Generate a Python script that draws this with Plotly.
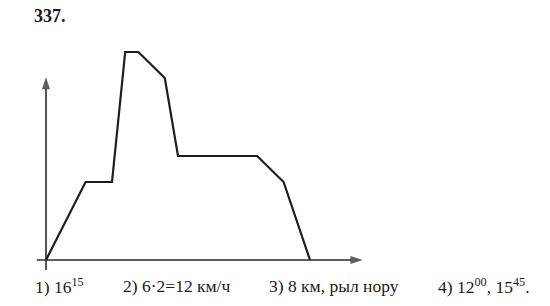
import plotly.graph_objects as go

# time in quarter-hours from start, distance in km
t_quarters = [0, 3, 5, 6, 7, 9, 10, 16, 18, 20]
dist_km = [0, 3, 3, 8, 8, 7, 4, 4, 3, 0]

problem_label = "337."
answers = [
    "1) 16<sup>15</sup>",
    "2) 6·2=12 км/ч",
    "3) 8 км, рыл нору",
    "4) 12<sup>00</sup>, 15<sup>45</sup>.",
]

# axis extents (data units)
x_axis_span = [-0.7, 24.0]
y_axis_span = [-0.38, 7.04]

W, H = 550, 306
x0_px, y0_px = 46.0, 260.0
sx, sy = 13.2, 26.0
x_range = [-x0_px / sx, (W - x0_px) / sx]
y_range = [-(H - y0_px) / sy, y0_px / sy]

serif = "Liberation Serif"
axis_col = "#2a2a2a"

fig = go.Figure()
# axes with arrowheads
for xs, ys in [(x_axis_span, [0, 0]), ([0, 0], y_axis_span)]:
    fig.add_trace(go.Scatter(
        x=xs, y=ys, mode="lines+markers",
        line=dict(color=axis_col, width=1.6),
        marker=dict(symbol="arrow", angleref="previous", size=[0, 13], color="#1a1a1a",
                    line=dict(width=0)),
        hoverinfo="skip", showlegend=False,
    ))
fig.add_trace(go.Scatter(
    x=t_quarters, y=dist_km, mode="lines",
    line=dict(color="#1e1e1e", width=2.2),
    hoverinfo="skip", showlegend=False,
))

fig.add_annotation(x=32 / W, y=1 - 16 / H, xref="paper", yref="paper",
                   text="<b>" + problem_label + "</b>", showarrow=False,
                   xanchor="left", yanchor="middle",
                   font=dict(family=serif, size=18, color="#1a1a1a"))

answer_px = [33, 121, 267, 436]
for txt, px in zip(answers, answer_px):
    fig.add_annotation(x=px / W, y=1 - 286 / H, xref="paper", yref="paper",
                       text=txt, showarrow=False, xanchor="left", yanchor="middle",
                       font=dict(family=serif, size=17.5, color="#1a1a1a"))

fig.update_xaxes(range=x_range, visible=False, fixedrange=True)
fig.update_yaxes(range=y_range, visible=False, fixedrange=True)
fig.update_layout(width=W, height=H, margin=dict(l=0, r=0, t=0, b=0),
                  paper_bgcolor="white", plot_bgcolor="white")

fig.write_html("out.html")
